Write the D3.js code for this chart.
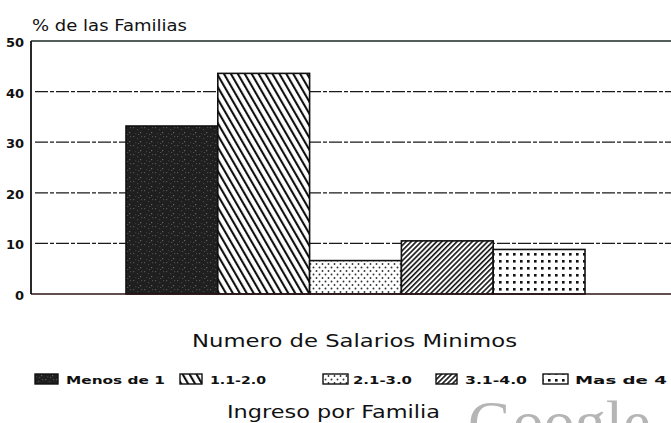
<!DOCTYPE html>
<html>
<head>
<meta charset="utf-8">
<script src="https://cdn.jsdelivr.net/npm/d3@7"></script>
<style>
  html, body { margin: 0; padding: 0; background: #fff; }
  svg { display: block; }
</style>
</head>
<body>
<svg id="chart" width="671" height="423"></svg>
<script>
// ---- data ----
const categories = ["Menos de 1", "1.1-2.0", "2.1-3.0", "3.1-4.0", "Mas de 4"];
const values = [33.2, 43.6, 6.6, 10.5, 8.8];
const yTicks = [0, 10, 20, 30, 40, 50];
const gridTicks = [10, 20, 30, 40];
const patterns = ["pSpeck", "pBack", "pDots", "pSlash", "pGrid"];
const yTitle = "% de las Familias";
const xTitle = "Numero de Salarios Minimos";
const bottomTitle = "Ingreso por Familia";

const svg = d3.select("#chart");
const axisX = 31, plotRight = 671;

const y = d3.scaleLinear().domain([0, 50]).range([294, 41]);
const x = d3.scaleBand().domain(categories).range([126, 585]).padding(0);

// ---- patterns ----
const defs = svg.append("defs");
const ps = defs.append("pattern").attr("id", "pSpeck").attr("patternUnits", "userSpaceOnUse")
  .attr("width", 11).attr("height", 9);
ps.append("rect").attr("width", 11).attr("height", 9).attr("fill", "#1f1f1f");
[[1,1,"#555"],[5,3,"#444"],[8,6,"#666"],[3,7,"#3a3a3a"],[9,1,"#4a4a4a"],[6,8,"#505050"]].forEach(d => {
  ps.append("rect").attr("x", d[0]).attr("y", d[1]).attr("width", 1.2).attr("height", 1.2).attr("fill", d[2]);
});
const pb = defs.append("pattern").attr("id", "pBack").attr("patternUnits", "userSpaceOnUse")
  .attr("width", 6).attr("height", 10).attr("patternTransform", "rotate(-30)");
pb.append("rect").attr("width", 6).attr("height", 10).attr("fill", "#fff");
pb.append("rect").attr("x", 0).attr("width", 2.1).attr("height", 10).attr("fill", "#111");
const pd = defs.append("pattern").attr("id", "pDots").attr("patternUnits", "userSpaceOnUse")
  .attr("width", 6).attr("height", 7);
pd.append("rect").attr("width", 6).attr("height", 7).attr("fill", "#fff");
pd.append("circle").attr("cx", 1.5).attr("cy", 1.5).attr("r", 0.95).attr("fill", "#333");
pd.append("circle").attr("cx", 4.5).attr("cy", 5).attr("r", 0.95).attr("fill", "#333");
const pl = defs.append("pattern").attr("id", "pSlash").attr("patternUnits", "userSpaceOnUse")
  .attr("width", 3.6).attr("height", 10).attr("patternTransform", "rotate(45)");
pl.append("rect").attr("width", 3.6).attr("height", 10).attr("fill", "#fff");
pl.append("rect").attr("x", 0).attr("width", 1.6).attr("height", 10).attr("fill", "#111");
const pg = defs.append("pattern").attr("id", "pGrid").attr("patternUnits", "userSpaceOnUse")
  .attr("width", 7).attr("height", 7).attr("x", 497).attr("y", 251);
pg.append("rect").attr("width", 7).attr("height", 7).attr("fill", "#fff");
pg.append("rect").attr("x", 2).attr("y", 2).attr("width", 2.6).attr("height", 2.6).attr("fill", "#111");

// ---- gridlines ----
svg.append("g").selectAll("line").data(gridTicks).join("line")
  .attr("x1", axisX + 4).attr("x2", plotRight)
  .attr("y1", d => y(d)).attr("y2", d => y(d))
  .attr("stroke", "#1a1a1a").attr("stroke-width", 1.3)
  .attr("stroke-dasharray", "13,2,4,2");

svg.append("line").attr("x1", axisX).attr("x2", plotRight)
  .attr("y1", y(50)).attr("y2", y(50)).attr("stroke", "#1c2a22").attr("stroke-width", 1.5);

// ---- bars ----
svg.append("g").selectAll("rect").data(categories).join("rect")
  .attr("x", d => x(d))
  .attr("y", (d, i) => y(values[i]))
  .attr("width", x.bandwidth())
  .attr("height", (d, i) => y(0) - y(values[i]))
  .attr("fill", (d, i) => `url(#${patterns[i]})`)
  .attr("stroke", "#111").attr("stroke-width", 1.6);

svg.append("line").attr("x1", axisX).attr("x2", plotRight)
  .attr("y1", y(0)).attr("y2", y(0)).attr("stroke", "#2a1414").attr("stroke-width", 1.6);
svg.append("line").attr("x1", axisX).attr("x2", axisX)
  .attr("y1", y(50)).attr("y2", y(0)).attr("stroke", "#111").attr("stroke-width", 1.8);

// y axis labels
const yAxis = d3.axisLeft(y).tickValues(yTicks).tickSize(0).tickPadding(0).tickFormat(d3.format("d"));
const ga = svg.append("g").attr("transform", `translate(${axisX - 7},0)`).call(yAxis);
ga.select(".domain").remove();
ga.selectAll("text")
  .attr("font-family", "DejaVu Sans, sans-serif")
  .attr("font-weight", "bold")
  .attr("font-size", 13)
  .attr("fill", "#111")
  .attr("dy", "0.42em");

// titles
svg.append("text").attr("x", 32).attr("y", 31)
  .attr("font-family", "DejaVu Sans, sans-serif").attr("font-size", 15)
  .attr("textLength", 155).attr("lengthAdjust", "spacingAndGlyphs")
  .attr("fill", "#111").text(yTitle);

svg.append("text").attr("x", 192).attr("y", 347)
  .attr("font-family", "DejaVu Sans, sans-serif").attr("font-size", 18)
  .attr("textLength", 325).attr("lengthAdjust", "spacingAndGlyphs")
  .attr("fill", "#111").text(xTitle);

svg.append("text").attr("x", 227).attr("y", 418)
  .attr("font-family", "DejaVu Sans, sans-serif").attr("font-size", 18)
  .attr("textLength", 213).attr("lengthAdjust", "spacingAndGlyphs")
  .attr("fill", "#111").text(bottomTitle);

// ---- legend ----
const legSwX = [35, 180, 323, 436, 543];
const legSwW = [23, 22, 25, 21, 25];
const legTxX = [66, 210, 353, 465, 575];
const legTxW = [99, 56, 59, 62, 92];
const lg = svg.append("g");
categories.forEach((c, i) => {
  lg.append("rect").attr("x", legSwX[i]).attr("y", 374).attr("width", legSwW[i]).attr("height", 10)
    .attr("fill", `url(#${patterns[i]})`).attr("stroke", "#111").attr("stroke-width", 1.4);
  lg.append("text").attr("x", legTxX[i]).attr("y", 384)
    .attr("font-family", "DejaVu Sans, sans-serif").attr("font-weight", "bold").attr("font-size", 11)
    .attr("textLength", legTxW[i]).attr("lengthAdjust", "spacingAndGlyphs")
    .attr("fill", "#111").text(c);
});

// watermark
svg.append("text").attr("x", 468).attr("y", 443)
  .attr("font-family", "Liberation Serif, serif").attr("font-size", 62)
  .attr("fill", "#b5b5b5").text("Google");
</script>
</body>
</html>
